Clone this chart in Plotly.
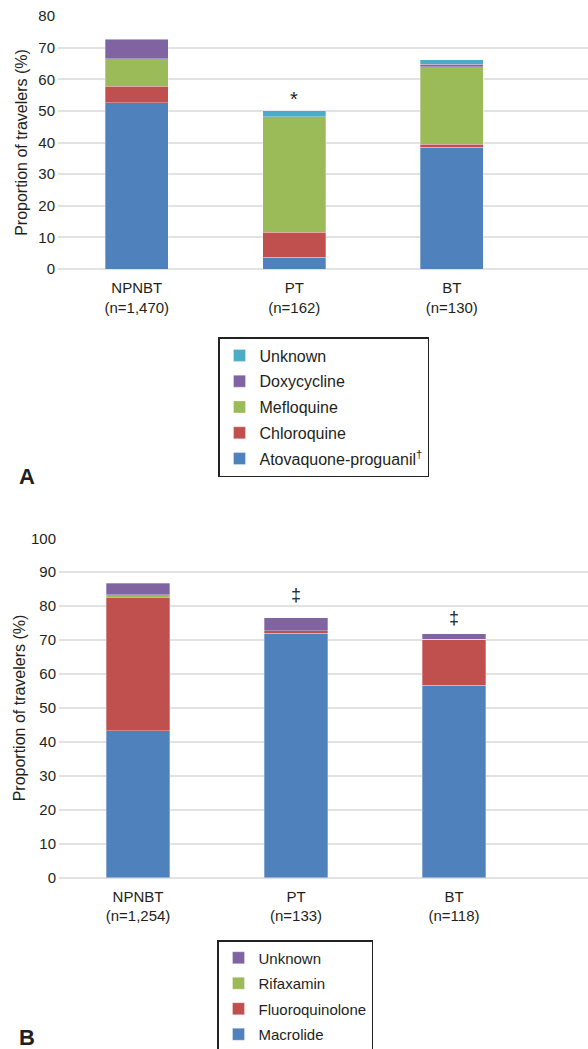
import plotly.graph_objects as go

# ---------------- data ----------------
categories_a = ["NPNBT<br>(n=1,470)", "PT<br>(n=162)", "BT<br>(n=130)"]
atovaquone = [52.5, 3.7, 38.5]
chloroquine = [5.3, 7.9, 0.9]
mefloquine = [8.7, 36.5, 24.6]
doxycycline = [6.0, 0.0, 0.7]
unknown_a = [0.3, 1.9, 1.5]

categories_b = ["NPNBT<br>(n=1,254)", "PT<br>(n=133)", "BT<br>(n=118)"]
macrolide = [43.3, 72.0, 56.7]
fluoroquinolone = [39.3, 0.8, 13.5]
rifaxamin = [0.7, 0.0, 0.0]
unknown_b = [3.5, 3.8, 1.7]

ticks_a = [0, 10, 20, 30, 40, 50, 60, 70, 80]
ticks_b = [0, 10, 20, 30, 40, 50, 60, 70, 80, 90, 100]

sig_a = {1: "*"}
sig_b = {1: "‡", 2: "‡"}

# ---------------- style ----------------
W, H = 588, 1049
BLUE, RED, GREEN, PURPLE, CYAN = "#4F81BD", "#C0504D", "#9BBB59", "#8064A2", "#4BACC6"
FONT = "Liberation Sans, Arial, Helvetica, sans-serif"
TXT = "#231F20"
GRID = "#E2E2E2"

fig = go.Figure()

series_a = [("Atovaquone-proguanil<sup>†</sup>", atovaquone, BLUE),
            ("Chloroquine", chloroquine, RED),
            ("Mefloquine", mefloquine, GREEN),
            ("Doxycycline", doxycycline, PURPLE),
            ("Unknown", unknown_a, CYAN)]
n_a = len(series_a)
for i, (name, vals, col) in enumerate(series_a):
    fig.add_trace(go.Bar(x=categories_a, y=vals, name=name, marker_color=col,
                         marker_line=dict(width=0.6, color="rgba(255,255,255,0.5)"),
                         width=0.4, xaxis="x", yaxis="y", legend="legend",
                         legendgroup="a%d" % i, legendrank=n_a - i))

series_b = [("Macrolide", macrolide, BLUE),
            ("Fluoroquinolone", fluoroquinolone, RED),
            ("Rifaxamin", rifaxamin, GREEN),
            ("Unknown", unknown_b, PURPLE)]
n_b = len(series_b)
for i, (name, vals, col) in enumerate(series_b):
    fig.add_trace(go.Bar(x=categories_b, y=vals, name=name, marker_color=col,
                         marker_line=dict(width=0.6, color="rgba(255,255,255,0.5)"),
                         width=0.4, xaxis="x2", yaxis="y2", legend="legend2",
                         legendgroup="b%d" % i, legendrank=n_b - i))

def px_y(p):
    return 1 - p / H

totals_a = [sum(v) for v in zip(atovaquone, chloroquine, mefloquine, doxycycline, unknown_a)]
totals_b = [sum(v) for v in zip(macrolide, fluoroquinolone, rifaxamin, unknown_b)]

annotations = []
for idx, sym in sig_a.items():
    annotations.append(dict(x=categories_a[idx], y=totals_a[idx], xref="x", yref="y",
                            text=sym, showarrow=False, yanchor="bottom", yshift=-1,
                            font=dict(size=20, color=TXT, family=FONT)))
shifts_b = {1: 11, 2: 4}
for idx, sym in sig_b.items():
    annotations.append(dict(x=categories_b[idx], y=totals_b[idx], xref="x2", yref="y2",
                            text=sym, showarrow=False, yanchor="bottom", yshift=shifts_b[idx],
                            font=dict(size=18, color=TXT, family=FONT)))
annotations.append(dict(x=17 / W, y=px_y(476), xref="paper", yref="paper", text="<b>A</b>",
                        showarrow=False, xanchor="left", yanchor="middle",
                        font=dict(size=22, color=TXT, family=FONT)))
annotations.append(dict(x=17 / W, y=px_y(1037), xref="paper", yref="paper", text="<b>B</b>",
                        showarrow=False, xanchor="left", yanchor="middle",
                        font=dict(size=22, color=TXT, family=FONT)))

yaxis_common = dict(showgrid=True, gridcolor=GRID, gridwidth=1.5, zeroline=True,
                    zerolinecolor=GRID, zerolinewidth=1.5, showline=False, ticks="",
                    automargin=False,
                    tickfont=dict(size=15, color=TXT, family=FONT), ticklabelstandoff=2)
xaxis_common = dict(showgrid=False, zeroline=False, showline=False, ticks="",
                    automargin=False, ticklabelstandoff=8,
                    tickfont=dict(size=15, color=TXT, family=FONT), fixedrange=True)

def ytitle(standoff):
    return dict(text="Proportion of travelers (%)",
                font=dict(size=16, color=TXT, family=FONT), standoff=standoff)

legend_common = dict(bgcolor="white", bordercolor="#222222", borderwidth=1.5,
                     xanchor="left", yanchor="top", traceorder="grouped")

fig.update_layout(
    width=W, height=H, margin=dict(l=0, r=0, t=0, b=0, autoexpand=False),
    paper_bgcolor="white", plot_bgcolor="white", barmode="stack",
    font=dict(family=FONT, color=TXT),
    xaxis=dict(domain=[58 / W, 1], range=[-0.5, 2.865], anchor="y", **xaxis_common),
    yaxis=dict(domain=[px_y(269), px_y(16)], range=[0, 80], tickvals=ticks_a, anchor="x",
               title=ytitle(6), **yaxis_common),
    xaxis2=dict(domain=[59 / W, 1], range=[-0.5, 2.848], anchor="y2", **xaxis_common),
    yaxis2=dict(domain=[px_y(877.7), px_y(538.3)], range=[0, 100], tickvals=ticks_b, anchor="x2",
                title=ytitle(1), **yaxis_common),
    legend=dict(x=218 / W, y=px_y(337), font=dict(size=16, color=TXT, family=FONT),
                tracegroupgap=2, entrywidth=181, **legend_common),
    legend2=dict(x=217 / W, y=px_y(940), font=dict(size=15, color=TXT, family=FONT),
                 tracegroupgap=3, **legend_common),
    annotations=annotations,
    showlegend=True,
)

fig.write_html("out.html",
               config={"displayModeBar": False},
               post_script="document.documentElement.style.margin='0';"
                           "document.body.style.margin='0';"
                           "document.body.style.overflow='hidden';")
